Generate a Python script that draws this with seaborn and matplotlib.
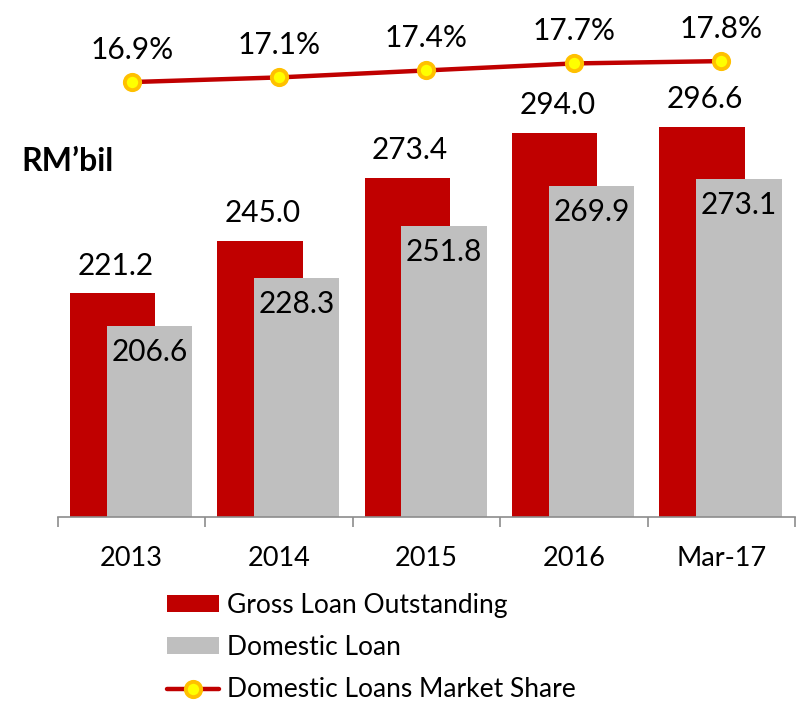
import matplotlib
matplotlib.use('Agg')
import matplotlib.pyplot as plt
from matplotlib.patches import Patch
from matplotlib.lines import Line2D
import seaborn as sns
import numpy as np

# data
periods = ['2013', '2014', '2015', '2016', 'Mar-17']
gross_loans = [221.2, 245.0, 273.4, 294.0, 296.6]
domestic_loans = [206.6, 228.3, 251.8, 269.9, 273.1]
market_share = [16.9, 17.1, 17.4, 17.7, 17.8]

RED = '#C00000'
GREY = '#BFBFBF'

sns.set_theme(style='white')
plt.rcParams['font.family'] = ['Lato', 'DejaVu Sans']
plt.rcParams['text.color'] = 'black'
plt.rcParams['xtick.color'] = 'black'

fig = plt.figure(figsize=(8.01, 7.03), dpi=100)
ax = fig.add_axes([0.0724, 0.2646, 0.920, 0.728])

idx = np.arange(len(periods))
sns.barplot(x=idx - 0.13, y=gross_loans, native_scale=True, width=0.58,
            color=RED, saturation=1, linewidth=0, ax=ax)
sns.barplot(x=idx + 0.12, y=domestic_loans, native_scale=True, width=0.58,
            color=GREY, saturation=1, linewidth=0, ax=ax)

ax.set_xlim(-0.5, len(periods) - 0.5)
ax.set_ylim(120, 351.7)
ax.set_yticks([])

# category boundary ticks + centred labels
ax.set_xticks(np.arange(len(periods) + 1) - 0.5)
ax.set_xticklabels([])
ax.set_xticks(idx, minor=True)
ax.set_xticklabels(periods, minor=True, fontsize=19.5, color='black')
ax.tick_params(axis='x', which='major', length=7, width=1.2, color='#8C8C8C', bottom=True)
ax.tick_params(axis='x', which='minor', length=0, pad=21)

for s in ['top', 'right', 'left']:
    ax.spines[s].set_visible(False)
ax.spines['bottom'].set_color('#8C8C8C')
ax.spines['bottom'].set_linewidth(1.2)

for i in idx:
    ax.annotate(f'{gross_loans[i]:.1f}', (i - 0.13, gross_loans[i]),
                xytext=(2, 10), textcoords='offset points',
                ha='center', va='bottom', fontsize=21.5, color='black')
    ax.annotate(f'{domestic_loans[i]:.1f}', (i + 0.12, domestic_loans[i]),
                xytext=(0, -19), textcoords='offset points',
                ha='center', va='center', fontsize=21.5, color='black')

# market share line on a twin axis
ax2 = ax.twinx()
sns.lineplot(x=idx, y=market_share, ax=ax2, color=RED, linewidth=3.2,
             marker='o', markersize=11, markerfacecolor='#FFFF00',
             markeredgecolor='#FFC000', markeredgewidth=2.8)
ax2.set_ylim(-1.77, 20.2)
ax2.set_yticks([])
ax2.set_xlim(-0.5, len(periods) - 0.5)
for s in ['top', 'right', 'left', 'bottom']:
    ax2.spines[s].set_visible(False)
for i in idx:
    ax2.annotate(f'{market_share[i]:.1f}%', (i, market_share[i]),
                 xytext=(0, 13), textcoords='offset points',
                 ha='center', va='bottom', fontsize=21.5, color='black')

fig.text(0.027, 0.77, 'RM\u2019bil', fontsize=23, fontweight='bold',
         ha='left', va='center', color='black')

handles = [
    Patch(facecolor=RED, edgecolor='none'),
    Patch(facecolor=GREY, edgecolor='none'),
    Line2D([0], [0], color=RED, linewidth=3.2, marker='o', markersize=11,
           markerfacecolor='#FFFF00', markeredgecolor='#FFC000', markeredgewidth=2.8),
]
labels = ['Gross Loan Outstanding', 'Domestic Loan', 'Domestic Loans Market Share']
leg = fig.legend(handles, labels, loc='upper left', bbox_to_anchor=(0.208, 0.157),
                 frameon=False, fontsize=19, handlelength=2.0, handleheight=0.6,
                 handletextpad=0.3, labelspacing=0.66, borderaxespad=0, borderpad=0)
for t in leg.get_texts():
    t.set_color('black')

fig.savefig('out.png', dpi=100)
